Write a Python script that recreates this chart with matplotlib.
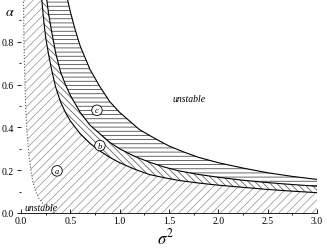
import matplotlib
matplotlib.use("Agg")
import matplotlib.pyplot as plt
from matplotlib.ticker import MultipleLocator

plt.rcParams['font.family'] = ['Liberation Serif', 'DejaVu Serif']
plt.rcParams['mathtext.fontset'] = 'stix'
plt.rcParams['hatch.linewidth'] = 0.55

# Dotted "unstable" boundary near origin (sigma^2, alpha)
sig_D = [0.025, 0.03, 0.04, 0.05, 0.06, 0.08, 0.10, 0.12, 0.15, 0.18, 0.22, 0.26, 0.30, 0.34]
alp_D = [1.00, 0.80, 0.60, 0.47, 0.38, 0.27, 0.20, 0.145, 0.10, 0.07, 0.045, 0.025, 0.01, 0.00]

# Upper boundary of region a
sig_A = [0.21, 0.23, 0.25, 0.28, 0.31, 0.35, 0.40, 0.45, 0.50, 0.55, 0.60, 0.70, 0.80, 0.90,
         1.00, 1.15, 1.30, 1.45, 1.60, 1.80, 2.00, 2.25, 2.50, 2.75, 3.00]
alp_A = [1.00, 0.90, 0.82, 0.74, 0.67, 0.59, 0.52, 0.47, 0.43, 0.40, 0.37, 0.325, 0.29, 0.26,
         0.235, 0.205, 0.18, 0.165, 0.152, 0.14, 0.13, 0.12, 0.11, 0.102, 0.095]

# Upper boundary of region b (lower boundary of region c)
sig_B = [0.26, 0.28, 0.31, 0.35, 0.40, 0.45, 0.50, 0.55, 0.60, 0.70, 0.80, 0.90,
         1.00, 1.15, 1.30, 1.45, 1.60, 1.80, 2.00, 2.25, 2.50, 2.75, 3.00]
alp_B = [1.00, 0.93, 0.85, 0.75, 0.66, 0.60, 0.55, 0.51, 0.47, 0.41, 0.37, 0.33,
         0.30, 0.265, 0.238, 0.215, 0.197, 0.18, 0.167, 0.153, 0.142, 0.133, 0.125]

# Upper boundary of region c
sig_C = [0.47, 0.50, 0.55, 0.60, 0.65, 0.70, 0.80, 0.90, 1.00, 1.10, 1.20, 1.35, 1.50,
         1.65, 1.80, 2.00, 2.25, 2.50, 2.75, 3.00]
alp_C = [1.00, 0.94, 0.855, 0.78, 0.725, 0.67, 0.59, 0.52, 0.47, 0.43, 0.39, 0.35, 0.313,
         0.285, 0.26, 0.235, 0.21, 0.188, 0.171, 0.157]

x_ticks = [0.0, 0.5, 1.0, 1.5, 2.0, 2.5, 3.0]
y_ticks = [0.0, 0.2, 0.4, 0.6, 0.8]

region_labels = ['a', 'b', 'c']
region_x = [0.365, 0.80, 0.77]
region_y = [0.197, 0.315, 0.48]

fig = plt.figure(figsize=(3.27, 2.51), dpi=100)
ax = fig.add_axes([21 / 327, 37 / 251, 296 / 327, 214 / 251])

# region a polygon: from dotted curve, along axis, back along A
a_x = sig_D + [3.0] + sig_A[::-1]
a_y = alp_D + [0.0] + alp_A[::-1]
ax.fill(a_x, a_y, facecolor='none', edgecolor='0.6', hatch='////', linewidth=0)

# region b between A and B
b_x = sig_A + [3.0] + sig_B[::-1]
b_y = alp_A + [alp_B[-1]] + alp_B[::-1]
ax.fill(b_x, b_y, facecolor='none', edgecolor='0.35', hatch='\\\\\\\\\\', linewidth=0)

# region c between B and C
c_x = sig_B + [3.0] + sig_C[::-1]
c_y = alp_B + [alp_C[-1]] + alp_C[::-1]
ax.fill(c_x, c_y, facecolor='none', edgecolor='0.25', hatch='----', linewidth=0)

ax.plot(sig_D, alp_D, color='0.35', lw=0.8, ls=':')
ax.plot(sig_A, alp_A, color='black', lw=0.8)
ax.plot(sig_B, alp_B, color='black', lw=0.8)
ax.plot(sig_C, alp_C, color='black', lw=0.8)

for lab, xx, yy in zip(region_labels, region_x, region_y):
    ax.text(xx, yy, lab, style='italic', fontsize=6, ha='center', va='center',
            bbox=dict(boxstyle='circle,pad=0.15', fc='white', ec='black', lw=0.6))

ax.text(1.7, 0.535, 'unstable', style='italic', fontsize=7, ha='center', va='center')
ax.text(0.2, 0.004, 'unstable', style='italic', fontsize=7, ha='center', va='bottom')

ax.set_xlim(0, 3.0)
ax.set_ylim(0, 1.0)
ax.set_xticks(x_ticks)
ax.set_xticklabels([f'{v:.1f}' for v in x_ticks])
ax.set_yticks(y_ticks)
ax.set_yticklabels([f'{v:.1f}' for v in y_ticks])
ax.xaxis.set_minor_locator(MultipleLocator(0.25))
ax.yaxis.set_minor_locator(MultipleLocator(0.1))
ax.tick_params(axis='both', which='major', labelsize=7, length=3, width=0.6, pad=2)
ax.tick_params(axis='both', which='minor', length=1.5, width=0.6)
ax.tick_params(axis='x', direction='in')
for s in ['top', 'right', 'left']:
    ax.spines[s].set_visible(False)
ax.spines['bottom'].set_linewidth(0.6)

fig.text(10 / 327, 1 - 13 / 251, r'$\alpha$', fontsize=10, ha='center', va='center')
fig.text(165 / 327, 1 - 238 / 251, r'$\sigma^2$', fontsize=12, ha='center', va='center')

fig.savefig('out.png', dpi=100)
